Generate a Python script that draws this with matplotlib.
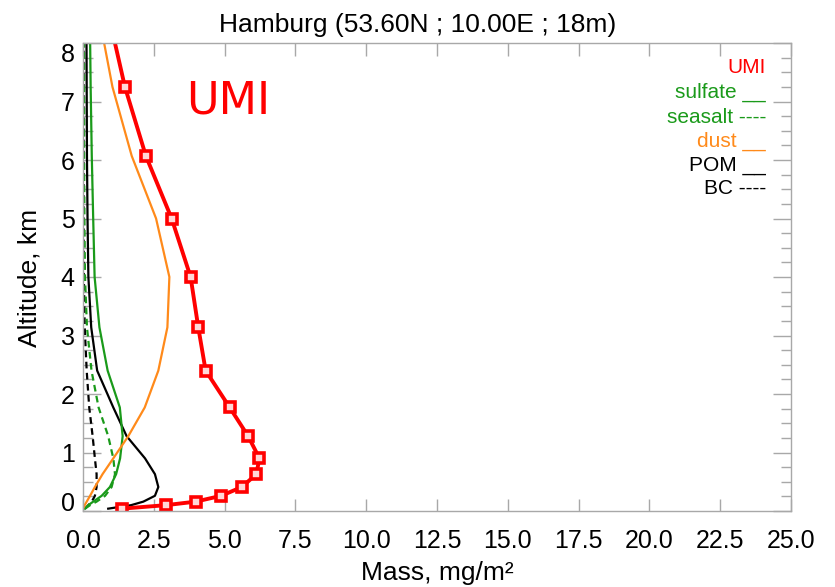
import matplotlib
matplotlib.use("Agg")
import matplotlib.pyplot as plt
from matplotlib.ticker import FixedLocator, MultipleLocator

plt.rcParams['font.family'] = ['Liberation Sans', 'DejaVu Sans']

# Model level altitudes (km)
altitude = [0.04, 0.10, 0.16, 0.26, 0.41, 0.63, 0.90, 1.28, 1.77, 2.40,
            3.14, 4.00, 5.00, 6.07, 7.25, 8.55]

# Aerosol mass profiles (mg/m2)
umi     = [1.37, 2.93, 3.98, 4.88, 5.61, 6.12, 6.23, 5.83, 5.18, 4.33,
           4.07, 3.80, 3.13, 2.22, 1.48, 0.87]
sulfate = [0.07, 0.19, 0.36, 0.66, 0.95, 1.17, 1.31, 1.40, 1.30, 0.87,
           0.58, 0.41, 0.36, 0.31, 0.27, 0.24]
seasalt = [0.07, 0.25, 0.48, 0.78, 1.01, 1.13, 1.07, 0.89, 0.55, 0.30,
           0.14, 0.07, 0.05, 0.04, 0.04, 0.04]
dust    = [0.00, 0.06, 0.13, 0.25, 0.42, 0.69, 1.07, 1.60, 2.18, 2.66,
           2.98, 3.05, 2.58, 1.72, 1.04, 0.53]
pom     = [0.89, 1.70, 2.13, 2.54, 2.66, 2.54, 2.19, 1.54, 1.07, 0.50,
           0.29, 0.19, 0.16, 0.14, 0.13, 0.12]
bc      = [0.07, 0.19, 0.31, 0.42, 0.48, 0.48, 0.42, 0.34, 0.22, 0.13,
           0.06, 0.03, 0.02, 0.02, 0.02, 0.02]

x_ticks = [0.0, 2.5, 5.0, 7.5, 10.0, 12.5, 15.0, 17.5, 20.0, 22.5, 25.0]
y_ticks = [0, 1, 2, 3, 4, 5, 6, 7, 8]

RED = '#ff0000'
GREEN = '#1a9a1a'
ORANGE = '#ff8a1a'
GRAY = '#a8a8a8'

fig = plt.figure(figsize=(8.35, 5.87), dpi=100)
ax = fig.add_axes([83 / 835, 1 - 511 / 587, 708 / 835, 468 / 587])

lw = 1.6
dash = (3.0, 2.0)
ax.plot(bc, altitude, color='black', lw=lw, dashes=dash)
ax.plot(seasalt, altitude, color=GREEN, lw=lw, dashes=dash)
ax.plot(pom, altitude, color='black', lw=lw)
ax.plot(sulfate, altitude, color=GREEN, lw=lw)
ax.plot(dust, altitude, color=ORANGE, lw=lw)
ax.plot(umi, altitude, color=RED, lw=2.8, marker='s', ms=7.5,
        mfc='#ffd8d8', mec=RED, mew=2.6)

ax.set_xlim(0, 25)
ax.set_ylim(0, 8)

ax.xaxis.set_major_locator(FixedLocator(x_ticks))
ax.yaxis.set_major_locator(FixedLocator(y_ticks))
ax.yaxis.set_minor_locator(MultipleLocator(0.25))
ax.set_xticklabels([f'{v:.1f}' for v in x_ticks])
ax.set_yticklabels([str(v) for v in y_ticks])

for s in ax.spines.values():
    s.set_color(GRAY)
    s.set_linewidth(1.0)

ax.tick_params(axis='x', which='major', direction='in', top=True, length=9,
               width=1.0, color=GRAY, labelsize=18, pad=13)
ax.tick_params(axis='y', which='major', direction='in', right=True, length=13,
               width=1.0, color=GRAY, labelsize=18, pad=6)
ax.tick_params(axis='y', which='minor', direction='in', right=True, length=7,
               width=1.0, color=GRAY)

ylabels = ax.get_yticklabels()
ylabels[0].set_verticalalignment('baseline')
ylabels[-1].set_verticalalignment('top')

fig.text(0.5, 1 - 32 / 587, 'Hamburg (53.60N ; 10.00E ; 18m)',
         ha='center', va='baseline', fontsize=19)
fig.text(30 / 835, 1 - 278 / 587, 'Altitude, km', rotation=90,
         ha='center', va='center', fontsize=19)
fig.text(437 / 835, 1 - 580 / 587, 'Mass, mg/m²',
         ha='center', va='baseline', fontsize=19)

ax.text(3.65, 6.80, 'UMI', color=RED, fontsize=32, family='DejaVu Sans',
        ha='left', va='baseline')

legend_rows = [
    ('UMI', RED, 7.49),
    ('sulfate __', GREEN, 7.06),
    ('seasalt ----', GREEN, 6.63),
    ('dust __', ORANGE, 6.22),
    ('POM __', 'black', 5.81),
    ('BC ----', 'black', 5.42),
]
for label, col, yy in legend_rows:
    ax.text(24.12, yy, label, color=col, fontsize=15, ha='right', va='baseline')

fig.savefig('out.png', dpi=100)
